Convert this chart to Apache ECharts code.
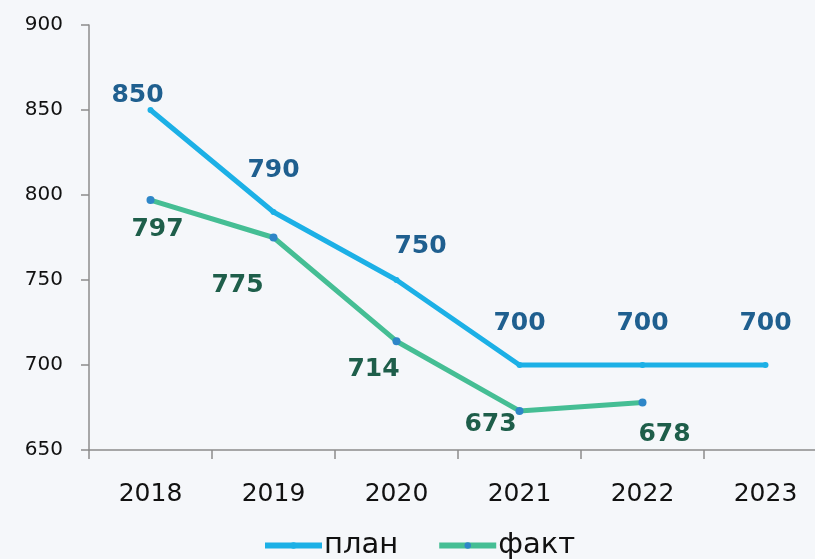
<!DOCTYPE html>
<html lang="ru">
<head>
    <meta charset="UTF-8">
    <title>план / факт</title>
    <script src="https://cdn.jsdelivr.net/npm/echarts@6/dist/echarts.min.js"></script>
    <style>
        html, body { margin: 0; padding: 0; background: #f5f7fa; }
        #main { width: 815px; height: 559px; }
    </style>
</head>
<body>
<div id="main"></div>
<script>
    var years = ['2018', '2019', '2020', '2021', '2022', '2023'];
    var plan = [850, 790, 750, 700, 700, 700];
    var fact = [797, 775, 714, 673, 678];
    var yTicks = [650, 700, 750, 800, 850, 900];

    // смещения подписей, как на исходнике
    var planOffsets = [[-13, -15], [0, -42], [24, -34], [0, -42], [0, -42], [0, -42]];
    var factOffsets = [[7, 29], [-36, 48], [-23, 28], [-29, 14], [22, 32]];

    function withOffsets(values, offsets) {
        return values.map(function (v, i) {
            return { value: v, label: { offset: offsets[i] } };
        });
    }

    var myChart = echarts.init(document.getElementById('main'));
    var option = {
        backgroundColor: '#f5f7fa',
        textStyle: { fontFamily: 'DejaVu Sans' },
        grid: { left: 89, width: 738, top: 25, bottom: 109, outerBoundsMode: 'none', containLabel: false },
        legend: {
            top: 531,
            left: 262,
            padding: 0,
            itemWidth: 57,
            itemHeight: 8,
            itemGap: 38,
            lineStyle: { width: 6 },
            textStyle: { fontSize: 29, color: '#111', fontFamily: 'DejaVu Sans', padding: [0, 0, 0, -3] },
            data: ['план', 'факт']
        },
        xAxis: {
            type: 'category',
            data: years,
            boundaryGap: true,
            axisLine: { lineStyle: { color: '#8c8c8c', width: 1.5 } },
            axisTick: { show: true, length: 9, inside: false, lineStyle: { color: '#8c8c8c', width: 1.5 } },
            axisLabel: { fontSize: 25, color: '#111', margin: 32 }
        },
        yAxis: {
            type: 'value',
            min: yTicks[0],
            max: yTicks[yTicks.length - 1],
            interval: 50,
            splitLine: { show: false },
            axisLine: { show: true, lineStyle: { color: '#8c8c8c', width: 1.5 } },
            axisTick: { show: true, length: 8, lineStyle: { color: '#8c8c8c', width: 1.5 } },
            axisLabel: { fontSize: 20, color: '#111', margin: 26 }
        },
        series: [
            {
                name: 'план',
                type: 'line',
                data: withOffsets(plan, planOffsets),
                symbol: 'circle',
                symbolSize: 6,
                lineStyle: { color: '#1cb0e6', width: 5 },
                itemStyle: { color: '#1cb0e6' },
                label: {
                    show: true,
                    position: 'inside',
                    fontSize: 25,
                    fontWeight: 'bold',
                    color: '#1f5f8f'
                },
                z: 3
            },
            {
                name: 'факт',
                type: 'line',
                data: withOffsets(fact, factOffsets),
                symbol: 'circle',
                symbolSize: 8,
                lineStyle: { color: '#45be94', width: 5 },
                itemStyle: { color: '#2e86c8' },
                label: {
                    show: true,
                    position: 'inside',
                    fontSize: 25,
                    fontWeight: 'bold',
                    color: '#1e5e4a'
                },
                z: 2
            }
        ]
    };
    myChart.setOption(option);
</script>
</body>
</html>
